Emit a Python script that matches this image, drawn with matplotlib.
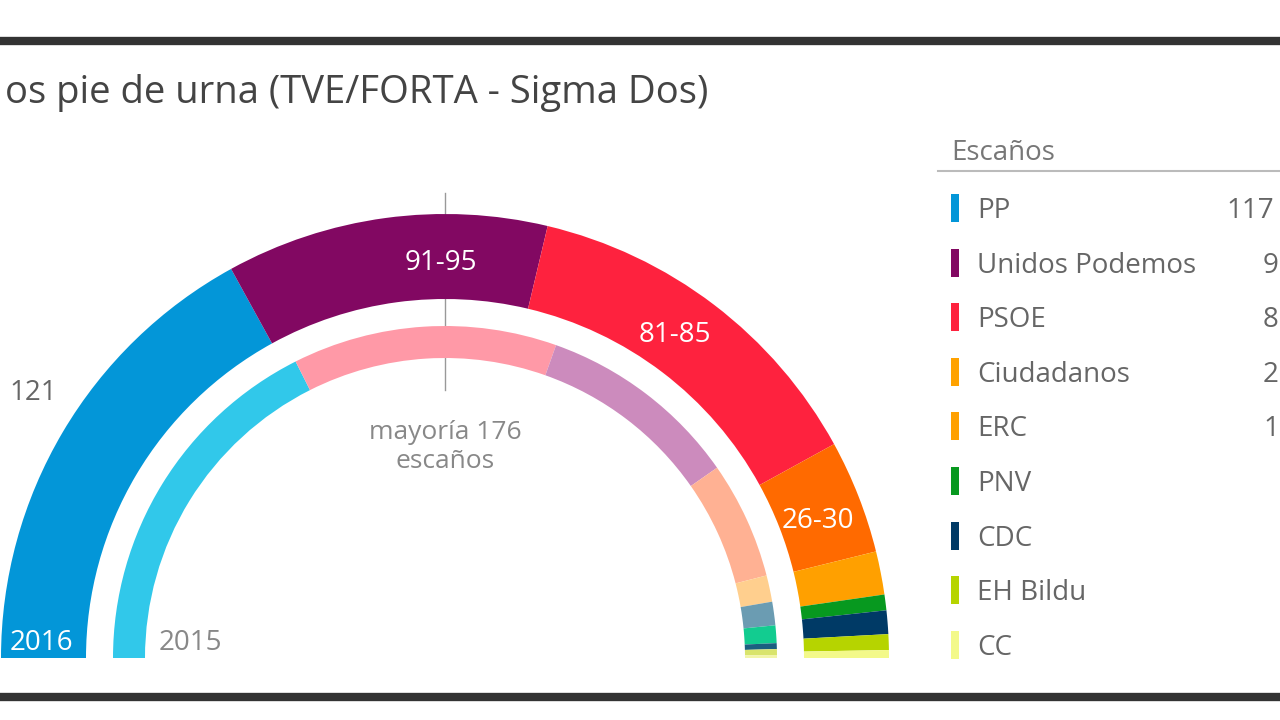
import matplotlib
matplotlib.use("Agg")
import matplotlib.pyplot as plt
from matplotlib.patches import Wedge, Rectangle

plt.rcParams['font.family'] = ['Open Sans', 'DejaVu Sans']

# outer ring: 2016 exit poll (seat widths as drawn)
parties_2016 = ['PP', 'Unidos Podemos', 'PSOE', 'Ciudadanos', 'ERC', 'PNV', 'CDC', 'EH Bildu', 'CC']
seats_2016 = [119, 82, 93, 29, 11, 4, 6, 4, 2]
colors_2016 = ['#0396d8', '#820862', '#fe223e', '#ff6a00', '#ffa000',
               '#07991f', '#003a66', '#b6d400', '#f3f98a']
# range labels as visible in the (cropped) picture
ranges_2016 = ['121', '91-95', '81-85', '26-30']

# inner ring: 2015 result
parties_2015 = ['PP', 'PSOE', 'Podemos', 'Ciudadanos', 'ERC', 'DL', 'PNV', 'IU', 'EH Bildu', 'CC']
seats_2015 = [123, 90, 69, 40, 9, 8, 6, 2, 2, 1]
colors_2015 = ['#31c8ea', '#ff99a7', '#cc8bbd', '#ffb193', '#ffcf8e',
               '#6b9cb2', '#12cc90', '#1b5f80', '#d9e46c', '#f2f5a8']

# legend table (value column is cut at the right edge of the picture)
legend_colors = ['#0396d8', '#820862', '#fe223e', '#ffa200', '#ffa000',
                 '#07991f', '#003a66', '#b6d400', '#f3f98a']
legend_values = ['117', '9', '8', '2', '1', '', '', '', '']

H = 720
cx, cy = 445, H - 658


def py(y):
    return H - y


def ring(ax, seats, colors, r_out, width):
    total = sum(seats)
    cum = 0
    for s, c in zip(seats, colors):
        t1 = 180 - (cum + s) / total * 180
        t2 = 180 - cum / total * 180
        ax.add_patch(Wedge((cx, cy), r_out, t1, t2, width=width, facecolor=c,
                           edgecolor='none'))
        cum += s


fig = plt.figure(figsize=(12.8, 7.2), dpi=100)
ax = fig.add_axes([0, 0, 1, 1])
ax.set_xlim(0, 1280)
ax.set_ylim(0, H)
ax.axis('off')

# frame lines
ax.plot([0, 1280], [py(41), py(41)], color='#333333', lw=6, solid_capstyle='butt')
ax.plot([0, 1280], [py(697), py(697)], color='#333333', lw=6, solid_capstyle='butt')

ax.text(708, py(93), 'os pie de urna (TVE/FORTA - Sigma Dos)', ha='right',
        va='center', fontsize=27.5, color='#444444')

# majority line
ax.plot([cx, cx], [py(193), py(390)], color='#999999', lw=1, zorder=1)

ring(ax, seats_2016, colors_2016, 444, 85)
ring(ax, seats_2015, colors_2015, 332, 32)

# labels on the outer ring
ax.text(441, py(263), ranges_2016[1], color='white', fontsize=20, ha='center', va='center')
ax.text(675, py(335), ranges_2016[2], color='white', fontsize=20, ha='center', va='center')
ax.text(818, py(521), ranges_2016[3], color='white', fontsize=20, ha='center', va='center')
ax.text(57, py(393), ranges_2016[0], color='#666666', fontsize=20, ha='right', va='center')

ax.text(41, py(643), '2016', color='white', fontsize=20, ha='center', va='center')
ax.text(190, py(643), '2015', color='#888888', fontsize=20, ha='center', va='center')
ax.text(cx, py(447), 'mayoría 176\nescaños', color='#888888', fontsize=19,
        ha='center', va='center', linespacing=1.25)

# legend / table
ax.text(951, py(153), 'Escaños', color='#777777', fontsize=20, ha='left', va='center')
ax.plot([938, 1280], [py(171), py(171)], color='#bbbbbb', lw=1.5)
row0, step = 208, 54.6
for i, (name, c, v) in enumerate(zip(parties_2016, legend_colors, legend_values)):
    yy = py(row0 + i * step)
    ax.add_patch(Rectangle((951, yy - 14), 8, 28, facecolor=c, edgecolor='none'))
    ax.text(977, yy - 3, name, color='#666666', fontsize=20, ha='left', va='center')
    if v:
        vx = 1226 if len(v) > 1 else 1263
        ax.text(vx, yy - 3, v, color='#666666', fontsize=20, ha='left', va='center')

fig.savefig('out.png', dpi=100)
